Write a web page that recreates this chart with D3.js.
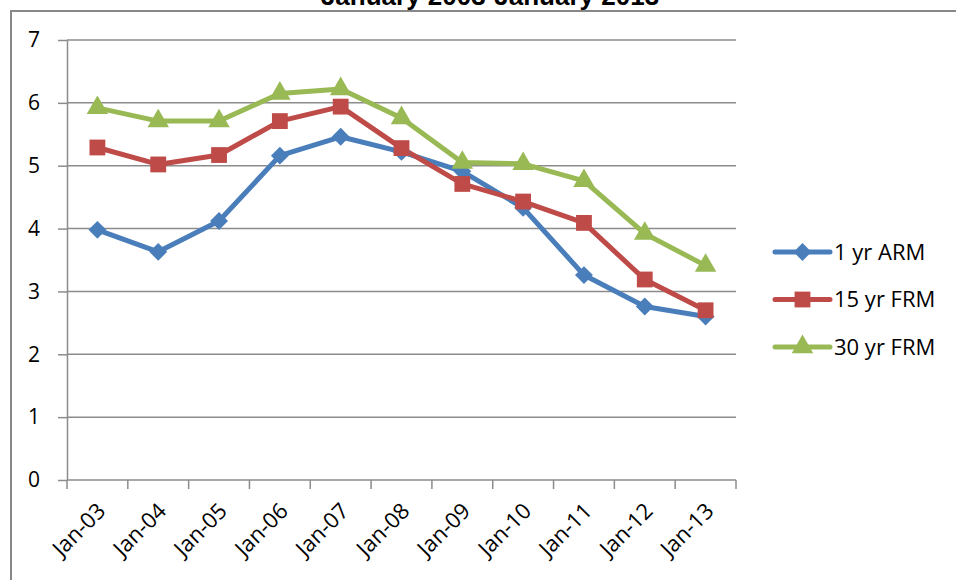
<!DOCTYPE html>
<head>
  <meta charset="utf-8">
  <style>
    body {
      margin: 0;
      background: #fff;
    }

    .grid line {
      stroke: #8c8c8c;
      stroke-width: 1.5;
    }

    .axis path,
    .axis line {
      stroke: #8c8c8c;
      stroke-width: 1.5;
    }

    .axis text,
    .legend text {
      font-family: "Open Sans", sans-serif;
      fill: #000;
    }
  </style>
  <script src="https://cdn.jsdelivr.net/npm/d3@7"></script>
</head>

<body>
  <script>
    const width = 956;
    const height = 580;

    const dates = ["Jan-03", "Jan-04", "Jan-05", "Jan-06", "Jan-07", "Jan-08",
      "Jan-09", "Jan-10", "Jan-11", "Jan-12", "Jan-13"];
    const arm1 = [3.98, 3.63, 4.12, 5.16, 5.46, 5.22, 4.91, 4.33, 3.26, 2.76, 2.60];
    const frm15 = [5.29, 5.02, 5.17, 5.71, 5.94, 5.28, 4.71, 4.43, 4.09, 3.19, 2.70];
    const frm30 = [5.92, 5.71, 5.71, 6.15, 6.22, 5.76, 5.05, 5.03, 4.76, 3.92, 3.41];
    const yTicks = [0, 1, 2, 3, 4, 5, 6, 7];

    // diamond = square turned 45 degrees
    const series = [
      { name: "1 yr ARM", values: arm1, color: "#4a7ebb", symbol: d3.symbolSquare, size: 160, rot: 45 },
      { name: "15 yr FRM", values: frm15, color: "#be4b48", symbol: d3.symbolSquare, size: 250, rot: 0 },
      { name: "30 yr FRM", values: frm30, color: "#98b954", symbol: d3.symbolTriangle, size: 200, rot: 0 }
    ];

    const svg = d3.select("body")
      .append("svg")
      .attr("width", width)
      .attr("height", height);

    // chart frame
    svg.append("rect")
      .attr("x", 11)
      .attr("y", 11)
      .attr("width", width + 20)
      .attr("height", height + 20)
      .style("fill", "none")
      .style("stroke", "#888")
      .style("stroke-width", 2);

    // title sits mostly above the top edge, as in the source image
    svg.append("text")
      .attr("x", 490)
      .attr("y", 5)
      .attr("text-anchor", "middle")
      .style("font-family", "Liberation Sans, Arial, sans-serif")
      .style("font-weight", "bold")
      .style("font-size", "26px")
      .text("January 2003-January 2013");

    const plotLeft = 67, plotRight = 736, plotTop = 40, plotBottom = 480;

    const x = d3.scaleBand()
      .domain(dates)
      .range([plotLeft, plotRight]);

    const y = d3.scaleLinear()
      .domain([0, 7])
      .range([plotBottom, plotTop]);

    // gridlines
    svg.append("g")
      .attr("class", "grid")
      .selectAll("line")
      .data(yTicks.filter(d => d > 0))
      .join("line")
      .attr("x1", plotLeft)
      .attr("x2", plotRight)
      .attr("y1", d => y(d))
      .attr("y2", d => y(d));

    // y axis
    const yAxis = svg.append("g")
      .attr("class", "axis")
      .attr("transform", `translate(${plotLeft},0)`)
      .call(d3.axisLeft(y).tickValues(yTicks).tickFormat(d3.format("d"))
        .tickSize(9).tickPadding(18).tickSizeOuter(0));
    yAxis.selectAll("text").style("font-size", "21px");

    // x axis, ticks on band edges
    const xAxis = svg.append("g")
      .attr("class", "axis")
      .attr("transform", `translate(0,${plotBottom})`);

    xAxis.append("line")
      .attr("x1", plotLeft)
      .attr("x2", plotRight);

    xAxis.selectAll(".tick")
      .data(dates.concat(["end"]))
      .join("line")
      .attr("class", "tick")
      .attr("x1", (d, i) => i < dates.length ? x(d) : plotRight)
      .attr("x2", (d, i) => i < dates.length ? x(d) : plotRight)
      .attr("y1", 0)
      .attr("y2", 9);

    xAxis.selectAll("text")
      .data(dates)
      .join("text")
      .attr("text-anchor", "end")
      .attr("transform", d => `translate(${x(d) + x.bandwidth() / 2 + 4},${27}) rotate(-45)`)
      .attr("dy", "0.35em")
      .style("font-size", "22px")
      .text(d => d);

    const line = d3.line()
      .x((d, i) => x(dates[i]) + x.bandwidth() / 2)
      .y(d => y(d));

    series.forEach(s => {
      svg.append("path")
        .datum(s.values)
        .attr("d", line)
        .style("fill", "none")
        .style("stroke", s.color)
        .style("stroke-width", 5)
        .style("stroke-linejoin", "round");
    });

    series.forEach(s => {
      svg.append("g")
        .selectAll("path")
        .data(s.values)
        .join("path")
        .attr("transform", (d, i) => `translate(${x(dates[i]) + x.bandwidth() / 2},${y(d)}) rotate(${s.rot})`)
        .attr("d", d3.symbol().type(s.symbol).size(s.size))
        .style("fill", s.color);
    });

    // legend
    const legend = svg.append("g")
      .attr("class", "legend")
      .selectAll("g")
      .data(series)
      .join("g")
      .attr("transform", (d, i) => `translate(775,${252 + i * 47.5})`);

    legend.append("line")
      .attr("x1", 0)
      .attr("x2", 55)
      .style("stroke", d => d.color)
      .style("stroke-width", 5)
      .style("stroke-linecap", "round");

    legend.append("path")
      .attr("transform", d => `translate(27.5,0) rotate(${d.rot})`)
      .attr("d", d => d3.symbol().type(d.symbol).size(d.size)())
      .style("fill", d => d.color);

    legend.append("text")
      .attr("x", 59)
      .attr("dy", "0.35em")
      .style("font-size", "22px")
      .text(d => d.name);
  </script>
</body>
